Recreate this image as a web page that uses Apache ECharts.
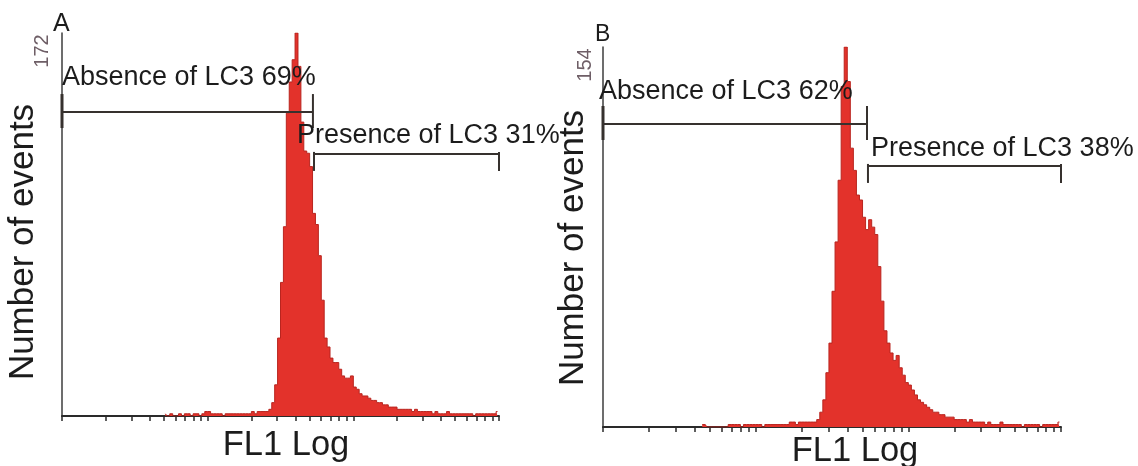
<!DOCTYPE html>
<html>
<head>
<meta charset="utf-8">
<title>FL1 Log histograms</title>
<script src="https://cdn.jsdelivr.net/npm/echarts@6/dist/echarts.min.js"></script>
<style>
  html, body { margin: 0; padding: 0; background: #ffffff; }
  #chart { width: 1138px; height: 466px; }
</style>
</head>
<body>
<div id="chart"></div>
<script>
// Histogram channels: 50 channels per decade on the FL1 log scale (10^0 .. 10^3)
const CHANNELS_PER_DECADE = 50;

// Panel A: event counts per channel, starting at channel 35
const firstChannelA = 35;
const countsA = [
  1, 0, 1, 0, 0, 1, 0, 1, 1, 0, 1, 1, 0, 1, 2, 2, 1, 1, 1, 1,
  0, 1, 1, 1, 1, 1, 1, 1, 1, 1, 2, 1, 2, 2, 2,
  2, 3, 6, 14, 35, 60, 85, 136, 150, 160, 172, 157, 132, 119, 118,
  112, 91, 86, 72, 52, 35, 31, 26, 24, 24, 21, 18, 17, 17, 18,
  13, 12, 10, 9, 9, 8, 7, 7, 6, 6, 5, 5, 4, 4, 4,
  3, 3, 3, 3, 3, 2, 3, 2, 2, 2, 2, 2, 1, 2, 1, 1, 1, 2, 1, 1,
  1, 1, 1, 1, 1, 1, 0, 1, 1, 1, 1, 1, 1, 1, 2
];

// Panel B: event counts per channel, starting at channel 32
const firstChannelB = 32;
const countsB = [
  1, 1, 0, 0, 0, 0, 0, 0, 0, 1, 1, 1, 1, 0, 1, 1, 1, 1, 1, 1,
  0, 1, 1, 1, 1, 1, 1, 1, 1, 2, 2, 1, 2, 2, 2, 2, 2,
  2, 3, 6, 11, 22, 34, 55, 75, 100, 138, 154, 140, 113, 104, 94,
  92, 85, 80, 84, 81, 78, 65, 51, 39, 34, 30, 27, 29, 24, 21, 18,
  17, 15, 13, 11, 10, 9, 8, 7, 6, 6, 5, 5, 4, 4, 4, 3, 3, 3, 3, 2,
  3, 2, 2, 2, 2, 1, 2, 1,
  1, 1, 2, 1, 1, 1, 1, 1, 1, 0, 1, 1, 1, 1, 1, 0, 1, 1, 1, 1, 1, 2
];

// Full-scale event counts of the two plots
const yMaxA = 172;
const yMaxB = 154;

// Tick marks of the FL1 log axis
const fl1Ticks = [
  1, 2, 3, 4, 5, 6, 7, 8, 9,
  10, 20, 30, 40, 50, 60, 70, 80, 90,
  100, 200, 300, 400, 500, 600, 700, 800, 900,
  1000
];

// Marker gates: [from, to, drawn at count level]
const gatesA = [[1, 52.8, 136.5], [53.7, 1000, 117.7]];
const gatesB = [[1, 53.6, 122.8], [54.4, 1000, 105.8]];
const gateLabelsA = ['Absence of LC3 69%', 'Presence of LC3 31%'];
const gateLabelsB = ['Absence of LC3 62%', 'Presence of LC3 38%'];

const FONT = '"Liberation Sans", Arial, Helvetica, sans-serif';
const INK = '#1c1c1c';
const FILL = '#e3322b';

function histogramData(first, counts) {
  return counts.map((n, i) => [Math.pow(10, (first + i + 0.5) / CHANNELS_PER_DECADE), n]);
}

// Tick lengths above / below the gate line: long bar for "absence", hanging bar for "presence"
const gateTickSpan = [[18, 16], [2, 17]];

function renderGate(params, api) {
  const a = api.coord([api.value(0), api.value(2)]);
  const b = api.coord([api.value(1), api.value(2)]);
  const t = gateTickSpan[params.dataIndex];
  const st = { stroke: '#36312e', lineWidth: 2 };
  return {
    type: 'group',
    children: [
      { type: 'line', shape: { x1: a[0], y1: a[1], x2: b[0], y2: b[1] }, style: st },
      { type: 'line', shape: { x1: a[0], y1: a[1] - t[0], x2: a[0], y2: a[1] + t[1] },
        style: { stroke: '#36312e', lineWidth: params.dataIndex === 0 ? 3 : 2 } },
      { type: 'line', shape: { x1: b[0], y1: b[1] - t[0], x2: b[0], y2: b[1] + t[1] }, style: st }
    ]
  };
}

function xAxisDef(gridIndex) {
  return {
    type: 'log', logBase: 10, gridIndex, min: 1, max: 1000,
    axisLine: { show: true, lineStyle: { color: '#2a2a2a', width: 2 } },
    axisTick: { show: true, length: 5, inside: false, customValues: fl1Ticks,
                lineStyle: { color: '#2a2a2a', width: 1.5 } },
    minorTick: { show: false },
    axisLabel: { show: false },
    splitLine: { show: false }
  };
}

function yAxisDef(gridIndex, max) {
  return {
    type: 'value', gridIndex, min: 0, max,
    axisLine: { show: true, lineStyle: { color: '#3d3d3d', width: 1.5 } },
    axisTick: { show: false },
    axisLabel: { show: false },
    splitLine: { show: false }
  };
}

function histSeries(idx, first, counts) {
  return {
    type: 'line', xAxisIndex: idx, yAxisIndex: idx,
    data: histogramData(first, counts),
    step: 'middle', symbol: 'none', z: 2,
    lineStyle: { color: '#b9251f', width: 1 },
    areaStyle: { color: FILL, opacity: 1 }
  };
}

function gateSeries(idx, gates) {
  return {
    type: 'custom', xAxisIndex: idx, yAxisIndex: idx, z: 10,
    encode: { x: [0, 1], y: 2 },
    data: gates, renderItem: renderGate, silent: true
  };
}

function text(str, x, y, size, opt) {
  opt = opt || {};
  return {
    type: 'text', x, y, z: 100, rotation: opt.rot || 0, silent: true,
    style: {
      text: str, font: size + 'px ' + FONT, fill: opt.color || INK,
      align: opt.align || 'left', verticalAlign: 'middle',
      textAlign: opt.align || 'left', textVerticalAlign: 'middle'
    }
  };
}

const chart = echarts.init(document.getElementById('chart'), null, { renderer: 'canvas' });

chart.setOption({
  backgroundColor: '#ffffff',
  animation: false,
  grid: [
    { left: 62, top: 33, width: 437, height: 383 },
    { left: 603, top: 47, width: 458, height: 380 }
  ],
  xAxis: [xAxisDef(0), xAxisDef(1)],
  yAxis: [yAxisDef(0, yMaxA), yAxisDef(1, yMaxB)],
  series: [
    histSeries(0, firstChannelA, countsA),
    histSeries(1, firstChannelB, countsB),
    gateSeries(0, gatesA),
    gateSeries(1, gatesB)
  ],
  graphic: [
    // panel A
    text('A', 53, 24, 25),
    text(String(yMaxA), 42, 51, 20, { rot: Math.PI / 2, align: 'center', color: '#6e5e66' }),
    text('Number of events', 23, 242, 35, { rot: Math.PI / 2, align: 'center' }),
    text('FL1 Log', 286, 445, 34.5, { align: 'center' }),
    text(gateLabelsA[0], 62, 78, 27),
    text(gateLabelsA[1], 297, 136, 27),
    // panel B
    text('B', 595, 35, 23),
    text(String(yMaxB), 585, 65, 20, { rot: Math.PI / 2, align: 'center', color: '#6e5e66' }),
    text('Number of events', 573, 248, 35, { rot: Math.PI / 2, align: 'center' }),
    text('FL1 Log', 855, 451, 34.5, { align: 'center' }),
    text(gateLabelsB[0], 599, 92, 27),
    text(gateLabelsB[1], 871, 149, 27)
  ]
});
</script>
</body>
</html>
